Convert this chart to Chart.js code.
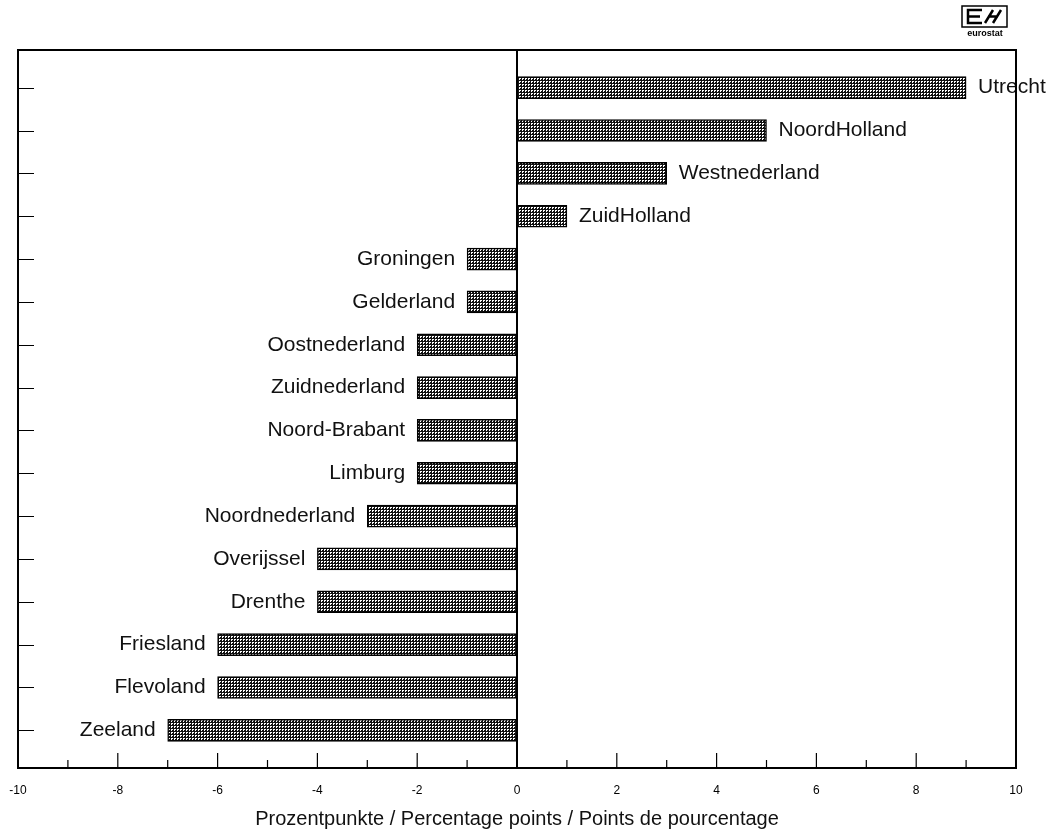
<!DOCTYPE html>
<html lang="de">
  <head>
    <meta charset="UTF-8" />
    <title>Regionen Niederlande</title>
    <script src="https://cdn.jsdelivr.net/npm/chart.js@4/dist/chart.umd.min.js"></script>
    <style>
      html, body { margin: 0; padding: 0; background: #fff; }
      canvas { display: block; }
    </style>
  </head>
  <body>
    <canvas id="chart" width="1057" height="837"></canvas>
  </body>
  <script>
    // regions, top to bottom
    const regions = [
      "Utrecht", "NoordHolland", "Westnederland", "ZuidHolland",
      "Groningen", "Gelderland", "Oostnederland", "Zuidnederland",
      "Noord-Brabant", "Limburg", "Noordnederland", "Overijssel",
      "Drenthe", "Friesland", "Flevoland", "Zeeland",
    ];
    const values = [9, 5, 3, 1, -1, -1, -2, -2, -2, -2, -3, -4, -4, -6, -6, -7];
    const xTicks = [-10, -8, -6, -4, -2, 0, 2, 4, 6, 8, 10];
    const axisTitle = "Prozentpunkte / Percentage points / Points de pourcentage";

    const font = "'Liberation Sans', Arial, Helvetica, sans-serif";

    // dotted bar fill
    function makePattern() {
      const c = document.createElement("canvas");
      c.width = 3;
      c.height = 3;
      const g = c.getContext("2d");
      g.fillStyle = "#111";
      g.fillRect(0, 0, 3, 3);
      g.fillStyle = "#fff";
      g.fillRect(0, 0, 2, 1);
      g.fillRect(0, 1, 1, 1);
      return g.createPattern(c, "repeat");
    }

    const framePlugin = {
      id: "frame",
      afterDatasetsDraw(chart) {
        const { ctx, chartArea: a, scales } = chart;
        const x = scales.x, y = scales.y;
        ctx.save();
        ctx.strokeStyle = "#000";
        // zero line
        ctx.lineWidth = 2;
        const x0 = x.getPixelForValue(0);
        ctx.beginPath();
        ctx.moveTo(x0, a.top);
        ctx.lineTo(x0, a.bottom);
        ctx.stroke();
        // x ticks, pointing in
        ctx.lineWidth = 1.2;
        for (let v = -10; v <= 10; v++) {
          const px = x.getPixelForValue(v);
          const len = v % 2 === 0 ? 15 : 8;
          ctx.beginPath();
          ctx.moveTo(px, a.bottom);
          ctx.lineTo(px, a.bottom - len);
          ctx.stroke();
        }
        // y ticks
        ctx.lineWidth = 1;
        regions.forEach((r, i) => {
          const py = Math.round(y.getPixelForValue(i)) + 0.5;
          ctx.beginPath();
          ctx.moveTo(a.left, py);
          ctx.lineTo(a.left + 16, py);
          ctx.stroke();
        });
        // labels beside bars
        ctx.fillStyle = "#111";
        ctx.font = "21px " + font;
        ctx.textBaseline = "middle";
        chart.getDatasetMeta(0).data.forEach((bar, i) => {
          if (values[i] >= 0) {
            ctx.textAlign = "left";
            ctx.fillText(regions[i], bar.x + 12, bar.y);
          } else {
            ctx.textAlign = "right";
            ctx.fillText(regions[i], bar.x - 12, bar.y);
          }
        });
        // border
        ctx.lineWidth = 2;
        ctx.strokeRect(a.left, a.top, a.right - a.left, a.bottom - a.top);

        // eurostat logo
        ctx.lineWidth = 1.5;
        ctx.strokeRect(962, 6, 45, 21);
        ctx.lineWidth = 2.5;
        ctx.beginPath();
        ctx.moveTo(982, 10); ctx.lineTo(968, 10); ctx.lineTo(968, 23); ctx.lineTo(982, 23);
        ctx.moveTo(968, 16.5); ctx.lineTo(980, 16.5);
        ctx.moveTo(985, 23); ctx.lineTo(993, 10);
        ctx.moveTo(993, 23); ctx.lineTo(1001, 10);
        ctx.moveTo(988, 16.5); ctx.lineTo(998, 16.5);
        ctx.stroke();
        ctx.font = "bold 9px " + font;
        ctx.textAlign = "center";
        ctx.fillStyle = "#000";
        ctx.fillText("eurostat", 985, 34);
        ctx.restore();
      },
    };

    const ctx = document.getElementById("chart").getContext("2d");

    new Chart(ctx, {
      type: "bar",
      data: {
        datasets: [
          {
            data: values.map((v, i) => ({ x: v, y: i })),
            backgroundColor: makePattern(),
            borderColor: "#000",
            borderWidth: 1.5,
            borderSkipped: false,
            barThickness: 22,
          },
        ],
      },
      options: {
        indexAxis: "y",
        responsive: false,
        animation: false,
        layout: { padding: { top: 50, right: 41, left: 0, bottom: 0 } },
        plugins: {
          legend: { display: false },
          tooltip: { enabled: false },
        },
        scales: {
          x: {
            type: "linear",
            min: -10,
            max: 10,
            afterBuildTicks: (s) => {
              s.ticks = xTicks.map((v) => ({ value: v }));
            },
            afterFit: (s) => {
              s.height = 69;
              s.paddingLeft = 0;
              s.paddingRight = 0;
            },
            grid: { display: false, drawTicks: false },
            border: { display: false },
            ticks: {
              color: "#000",
              font: { size: 12, family: font },
              padding: 15,
              maxRotation: 0,
            },
            title: {
              display: true,
              text: axisTitle,
              color: "#111",
              font: { size: 20, family: font },
              padding: { top: 0, bottom: 6 },
            },
          },
          y: {
            type: "linear",
            reverse: true,
            offset: false,
            min: -0.88,
            max: 15.88,
            afterFit: (s) => {
              s.width = 18;
            },
            grid: { display: false, drawTicks: false },
            border: { display: false },
            ticks: { display: false },
          },
        },
      },
      plugins: [framePlugin],
    });
  </script>
</html>
